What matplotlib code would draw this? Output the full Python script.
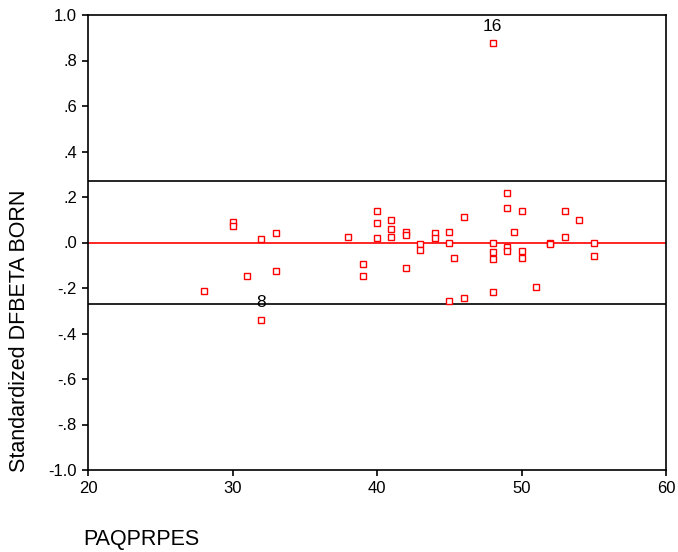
import matplotlib
matplotlib.use("Agg")
import matplotlib.pyplot as plt
from matplotlib.ticker import FixedLocator, FuncFormatter

plt.rcParams['font.family'] = ['Liberation Sans', 'DejaVu Sans']

paqprpes = [28, 30, 30, 31, 32, 32, 33, 33, 38, 39, 39,
            40, 40, 40, 41, 41, 41, 42, 42, 42, 43, 43, 44, 44,
            45, 45, 45, 45.3, 46, 46,
            48, 48, 48, 48, 48, 49, 49, 49, 49, 49.5,
            50, 50, 50, 51, 52, 52, 53, 53, 54, 55, 55]
dfbeta = [-0.213, 0.088, 0.072, -0.147, 0.014, -0.339, 0.040, -0.125, 0.026, -0.093, -0.147,
          0.140, 0.087, 0.020, 0.099, 0.059, 0.026, 0.048, 0.032, -0.114, -0.007, -0.033, 0.043, 0.018,
          0.047, 0.000, -0.259, -0.067, 0.113, -0.246,
          0.875, 0.000, -0.043, -0.071, -0.219, 0.219, 0.153, -0.018, -0.037, 0.046,
          0.140, -0.037, -0.068, -0.194, -0.004, -0.008, 0.140, 0.026, 0.099, 0.000, -0.059]

labels = {"16": (48, 0.875), "8": (32, -0.339)}
cutoff = 0.272
xticks = [20, 30, 40, 50, 60]
yticks = [-1.0, -0.8, -0.6, -0.4, -0.2, 0.0, 0.2, 0.4, 0.6, 0.8, 1.0]

fig = plt.figure(figsize=(6.78, 5.52), dpi=100)
ax = fig.add_axes([88/678, 1 - 470/552, (666-88)/678, (470-15)/552])

ax.axhline(0, color='#ff0000', lw=1.2, zorder=1)
ax.axhline(cutoff, color='black', lw=1.2, zorder=1)
ax.axhline(-cutoff, color='black', lw=1.2, zorder=1)

ax.plot(paqprpes, dfbeta, linestyle='none', marker='s', markersize=4.6,
        markerfacecolor='white', markeredgecolor='#ff0000', markeredgewidth=1.0, zorder=3)

for txt, (xv, yv) in labels.items():
    ax.annotate(txt, (xv, yv), xytext=(0, 12), textcoords='offset points',
                ha='center', va='center', fontsize=12.5, color='black')

ax.set_xlim(20, 60)
ax.set_ylim(-1.0, 1.0)
ax.xaxis.set_major_locator(FixedLocator(xticks))
ax.yaxis.set_major_locator(FixedLocator(yticks))

def yfmt(v, pos):
    s = f"{v:.1f}"
    if abs(v) < 1:
        s = s.replace("0.", ".")
    if s == "-.0":
        s = ".0"
    return s

ax.yaxis.set_major_formatter(FuncFormatter(yfmt))
ax.tick_params(direction='out', length=4, width=1.2, labelsize=12, colors='black', pad=4)
for sp in ax.spines.values():
    sp.set_linewidth(1.2)
    sp.set_color('black')

fig.text(20/678, 1 - 331/552, "Standardized DFBETA BORN", rotation=90,
         ha='center', va='center', fontsize=15.5)
fig.text(83/678, 1 - 539/552, "PAQPRPES", ha='left', va='center', fontsize=15.5)

fig.savefig("out.png", dpi=100)
